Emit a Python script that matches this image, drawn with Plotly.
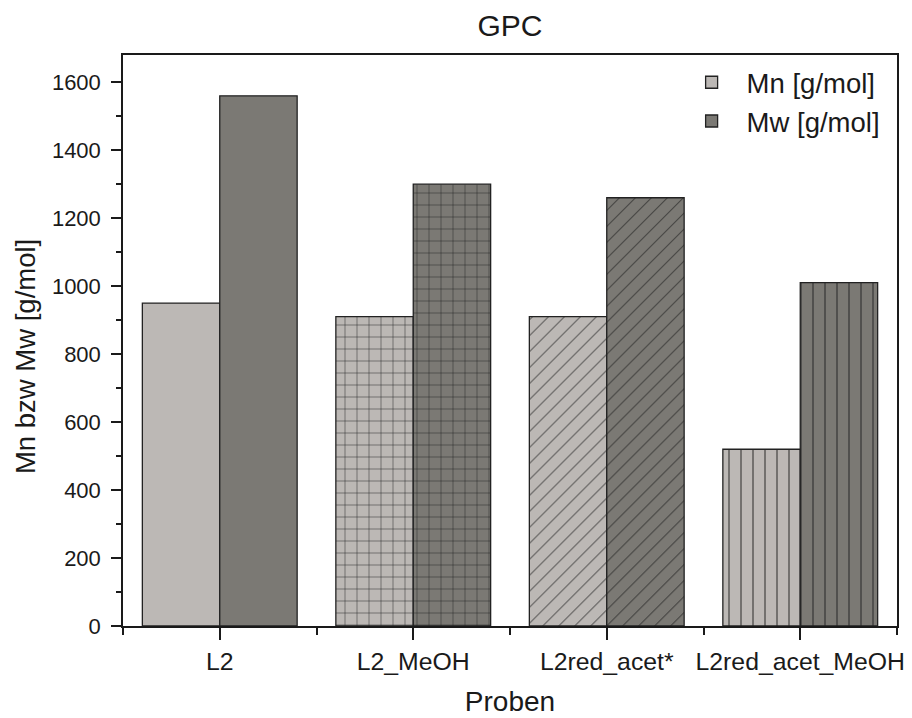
import plotly.graph_objects as go

categories = ["L2", "L2_MeOH", "L2red_acet*", "L2red_acet_MeOH"]
mn_values = [950, 910, 910, 520]
mw_values = [1560, 1300, 1260, 1010]
patterns = ["", "+", "/", "|"]
series_names = ["Mn [g/mol]", "Mw [g/mol]"]
y_ticks = [0, 200, 400, 600, 800, 1000, 1200, 1400, 1600]

# style only
pattern_sizes = [12, 12, 11.3, 12]
MN_COLOR = "#bcb8b5"
MW_COLOR = "#7b7974"
INK = "#1a1a1a"
FONT = "Liberation Sans, Arial, sans-serif"

xpos = list(range(len(categories)))

fig = go.Figure()
for name, vals, col in [(series_names[0], mn_values, MN_COLOR), (series_names[1], mw_values, MW_COLOR)]:
    fig.add_trace(go.Bar(
        x=xpos, y=vals, name=name,
        marker=dict(
            color=col,
            line=dict(color="#222222", width=1.3),
            pattern=dict(shape=patterns, fgcolor="#222222", bgcolor=col,
                         size=pattern_sizes, solidity=0.08, fillmode="replace"),
        ),
    ))

# page body has an 8px margin, so the figure is 8px smaller than the window
fig.update_layout(
    width=904, height=710,
    paper_bgcolor="white", plot_bgcolor="white",
    margin=dict(l=115, r=15, t=47, b=92),
    barmode="group", bargap=0.2, bargroupgap=0,
    font=dict(family=FONT, size=20, color=INK),
    title=dict(text="GPC", x=0.5, xref="paper", xanchor="center",
               y=0.975, yref="container", yanchor="middle",
               font=dict(size=30, family=FONT, color=INK)),
    legend=dict(x=0.984, xanchor="right", y=0.995, yanchor="top",
                bgcolor="rgba(0,0,0,0)", font=dict(size=27.5, family=FONT),
                itemwidth=60, tracegroupgap=0),
    showlegend=True,
    annotations=[dict(text="Mn bzw Mw [g/mol]", textangle=-90,
                      xref="paper", yref="paper", x=-0.1266, y=0.471,
                      xanchor="center", yanchor="middle", showarrow=False,
                      font=dict(size=27.5, family=FONT, color=INK))],
)

fig.update_xaxes(
    range=[-0.5, 3.5], tickmode="array", tickvals=xpos, ticktext=categories,
    ticks="outside", ticklen=12, tickwidth=1.5, tickcolor=INK,
    minor=dict(ticks="outside", ticklen=7, tickwidth=1.5, tickcolor=INK,
               tick0=-0.5, dtick=1, showgrid=False),
    showline=True, linecolor=INK, linewidth=1.5, mirror=True,
    showgrid=False, zeroline=False, automargin=False,
    tickfont=dict(size=24.8, family=FONT),
    title=dict(text="Proben", font=dict(size=28, family=FONT), standoff=18),
)
fig.update_yaxes(
    range=[0, 1680], tickmode="array", tickvals=y_ticks,
    ticks="outside", ticklen=10, tickwidth=1.5, tickcolor=INK,
    minor=dict(ticks="outside", ticklen=5, tickwidth=1.5, tickcolor=INK,
               tick0=100, dtick=200, showgrid=False),
    showline=True, linecolor=INK, linewidth=1.5, mirror=True,
    showgrid=False, zeroline=False, automargin=False,
    tickfont=dict(size=22, family=FONT), ticklabelstandoff=6,
)

fig.write_html("out.html")
